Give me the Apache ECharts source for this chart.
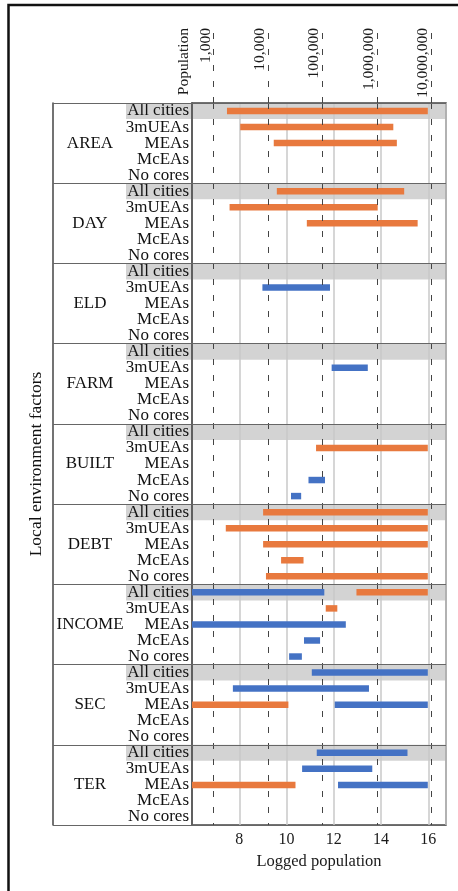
<!DOCTYPE html>
<html><head><meta charset="utf-8">
<script src="https://cdn.jsdelivr.net/npm/echarts@6.0.0/dist/echarts.min.js"></script>
<style>html,body{margin:0;padding:0;background:#fff}#c{width:458px;height:891px}</style>
</head><body><div id="c"></div>
<script>
// ---- data ----
const factors = ['AREA', 'DAY', 'ELD', 'FARM', 'BUILT', 'DEBT', 'INCOME', 'SEC', 'TER'];
const cityTypes = ['All cities', '3mUEAs', 'MEAs', 'McEAs', 'No cores'];
// [factor, city type, low, high] in logged population
const orangeBars = [
  ['AREA', 'All cities', 7.48, 15.98],
  ['AREA', '3mUEAs', 8.04, 14.52],
  ['AREA', 'MEAs', 9.46, 14.67],
  ['DAY', 'All cities', 9.59, 14.98],
  ['DAY', '3mUEAs', 7.59, 13.86],
  ['DAY', 'MEAs', 10.86, 15.55],
  ['BUILT', '3mUEAs', 11.25, 15.98],
  ['DEBT', 'All cities', 9.01, 15.98],
  ['DEBT', '3mUEAs', 7.43, 15.98],
  ['DEBT', 'MEAs', 9.01, 15.98],
  ['DEBT', 'McEAs', 9.77, 10.72],
  ['DEBT', 'No cores', 9.13, 15.98],
  ['INCOME', 'All cities', 12.96, 15.98],
  ['INCOME', '3mUEAs', 11.66, 12.15],
  ['SEC', 'MEAs', 6.0, 10.08],
  ['TER', 'MEAs', 6.0, 10.38]
];
const blueBars = [
  ['ELD', '3mUEAs', 8.98, 11.84],
  ['FARM', '3mUEAs', 11.91, 13.44],
  ['BUILT', 'McEAs', 10.93, 11.63],
  ['BUILT', 'No cores', 10.19, 10.62],
  ['INCOME', 'All cities', 6.0, 11.6],
  ['INCOME', 'MEAs', 6.0, 12.51],
  ['INCOME', 'McEAs', 10.74, 11.42],
  ['INCOME', 'No cores', 10.11, 10.65],
  ['SEC', 'All cities', 11.07, 15.98],
  ['SEC', '3mUEAs', 7.73, 13.49],
  ['SEC', 'MEAs', 12.04, 15.98],
  ['TER', 'All cities', 11.28, 15.12],
  ['TER', '3mUEAs', 10.66, 13.63],
  ['TER', 'MEAs', 12.18, 15.98]
];
const xTickLabels = [8, 10, 12, 14, 16];
const popTickLabels = ['1,000', '10,000', '100,000', '1,000,000', '10,000,000'];
const popTickValues = [6.91, 9.21, 11.51, 13.82, 16.12];
const popTitle = 'Population';
const xMin = 6, xMax = 16.75;

// ---- build ----
const FONT = 'Liberation Serif';
const rowLabels = [];
factors.forEach(() => cityTypes.forEach(t => rowLabels.push(t)));
const rowIndex = (f, t) => factors.indexOf(f) * cityTypes.length + cityTypes.indexOf(t);
const toData = arr => arr.map(([f, t, lo, hi]) => [rowIndex(f, t), lo, hi]);
const shadeRows = factors.map(f => [rowIndex(f, 'All cities'), xMin, xMax]);
const labelColW = 66;

function barItem(color) {
  return function (params, api) {
    const r = api.value(0);
    const a = api.coord([api.value(1), r]);
    const b = api.coord([api.value(2), r]);
    const h = 6.5;
    return { type: 'rect', shape: { x: a[0], y: a[1] - h / 2, width: b[0] - a[0], height: h }, style: { fill: color } };
  };
}
function shadeItem(params, api) {
  const p = api.coord([xMin, api.value(0)]);
  const h = api.size([0, 1])[1];
  const cs = params.coordSys;
  return { type: 'rect', shape: { x: cs.x - labelColW, y: p[1] - h / 2, width: cs.width + labelColW, height: h }, style: { fill: '#d3d3d3' } };
}
const topLabelVals = [xMin].concat(popTickValues);
const topLabelTexts = [popTitle].concat(popTickLabels);
function topFmt(v) {
  let best = 0, d = Infinity;
  topLabelVals.forEach((x, i) => { if (Math.abs(x - v) < d) { d = Math.abs(x - v); best = i; } });
  return topLabelTexts[best];
}

const chart = echarts.init(document.getElementById('c'));
chart.setOption({
  animation: false,
  backgroundColor: '#fff',
  textStyle: { fontFamily: FONT },
  graphic: [{ type: 'rect', silent: true, shape: { x: 8.5, y: 5, width: 600, height: 1000 }, style: { fill: null, stroke: '#111', lineWidth: 2.5 } }],
  grid: { left: 192, right: 12, top: 103, bottom: 66, outerBoundsMode: 'none', containLabel: false, show: true, borderColor: '#444', borderWidth: 1.5, backgroundColor: 'transparent' },
  xAxis: [
    {
      type: 'value', min: xMin, max: xMax, interval: 2, position: 'bottom',
      axisLine: { show: false }, axisTick: { show: false },
      splitLine: { show: true, lineStyle: { color: '#c9c9c9', width: 1.5 } },
      axisLabel: { customValues: xTickLabels, fontSize: 16, color: '#1a1a1a', margin: 7, fontFamily: FONT },
      name: 'Logged population', nameLocation: 'middle', nameGap: 27,
      nameTextStyle: { fontSize: 16.5, color: '#1a1a1a', fontFamily: FONT }
    },
    {
      type: 'value', min: xMin, max: xMax, position: 'top',
      axisLine: { show: false }, splitLine: { show: false },
      axisTick: { show: true, customValues: popTickValues, length: 75, lineStyle: { color: '#444', type: [6, 10], width: 1 } },
      axisLabel: { customValues: topLabelVals, formatter: topFmt, rotate: -90, align: 'right', verticalAlign: 'bottom', margin: 75, fontSize: 15.5, color: '#1a1a1a', fontFamily: FONT }
    }
  ],
  yAxis: [
    {
      type: 'category', data: rowLabels, inverse: true, position: 'left',
      axisLine: { show: true, lineStyle: { color: '#444', width: 1.5 } },
      axisTick: { show: false }, splitLine: { show: false },
      axisLabel: { interval: 0, fontSize: 17, color: '#111', margin: 3, fontFamily: FONT }
    },
    {
      type: 'category', data: factors, inverse: true, position: 'left', offset: 139, z: 5,
      axisLine: { show: true, lineStyle: { color: '#444', width: 1.5 } },
      axisTick: { show: true, inside: true, interval: 0, length: 393, lineStyle: { color: '#666', width: 1.2 } },
      axisLabel: { interval: 0, inside: true, align: 'center', margin: 37, fontSize: 17, color: '#111', fontFamily: FONT },
      name: 'Local environment factors', nameLocation: 'middle', nameGap: 3, nameRotate: 90,
      nameTextStyle: { fontSize: 17.5, color: '#111', fontFamily: FONT }
    }
  ],
  series: [
    { type: 'custom', name: 'shade', z: -1, clip: false, silent: true, renderItem: shadeItem, encode: { x: [1, 2], y: 0 }, data: shadeRows },
    {
      type: 'line', data: [], silent: true,
      markLine: { silent: true, symbol: ['none', 'none'], label: { show: false }, lineStyle: { color: '#444', type: [6, 10], width: 1 }, data: popTickValues.map(v => ({ xAxis: v })) }
    },
    { type: 'custom', name: 'orange', z: 3, renderItem: barItem('#E8793E'), encode: { x: [1, 2], y: 0 }, data: toData(orangeBars) },
    { type: 'custom', name: 'blue', z: 3, renderItem: barItem('#4472C4'), encode: { x: [1, 2], y: 0 }, data: toData(blueBars) }
  ]
});
</script>
</body></html>
